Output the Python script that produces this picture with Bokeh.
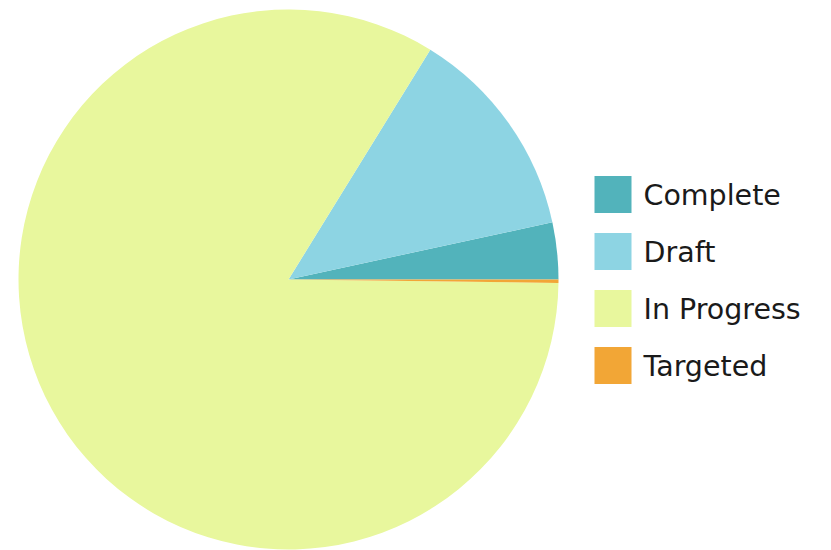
import numpy as np
from bokeh.plotting import figure
from bokeh.models import ColumnDataSource, Range1d
from bokeh.core.properties import value
from bokeh.embed import file_html
from bokeh.resources import INLINE

categories = ["Complete", "Draft", "In Progress", "Targeted"]
counts = [17, 64, 418, 1]
colors = ["#52b3bb", "#8dd4e3", "#e8f79d", "#f2a636"]

W, H = 831, 550
total = float(sum(counts))
ang = np.cumsum([0.0] + [c / total * 2 * np.pi for c in counts])
pie = ColumnDataSource(dict(
    start=ang[:-1], end=ang[1:], color=colors, cat=categories,
))

p = figure(width=W, height=H, output_backend="svg", toolbar_location=None,
           x_range=Range1d(0, W), y_range=Range1d(0, H),
           min_border=0, outline_line_color=None)
p.axis.visible = False
p.grid.visible = False

cx, cy, r = 288, H - 279, 270
p.wedge(x=cx, y=cy, radius=r, start_angle="start", end_angle="end",
        fill_color="color", line_color=None, source=pie)

# legend
n = len(categories)
ly = [H - (194 + 57 * i) for i in range(n)]
leg = ColumnDataSource(dict(
    x=[612.5] * n, y=ly, ty=[v - 1 for v in ly], tx=[643] * n,
    color=colors, cat=categories,
))
p.rect(x="x", y="y", width=37, height=37, fill_color="color",
       line_color=None, source=leg)
p.text(x="tx", y="ty", text="cat", source=leg, text_font=value("DejaVu Sans"),
       text_font_size="28.5px", text_color="#1a1a1a", text_baseline="middle")

open("out.html", "w").write(file_html(p, INLINE))
